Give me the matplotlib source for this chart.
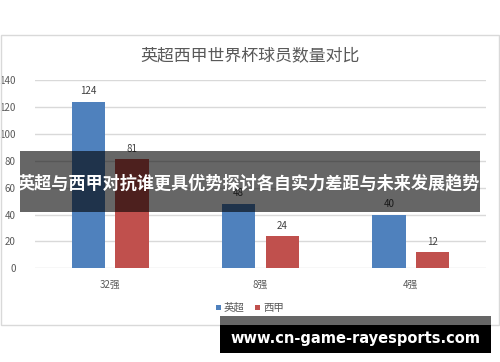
import matplotlib.pyplot as plt
import numpy as np
from matplotlib.patches import Rectangle

plt.rcParams['font.family'] = ['Noto Sans CJK SC', 'DejaVu Sans']

categories = ["32强", "8强", "4强"]
epl = [124, 48, 40]
laliga = [81, 24, 12]
series_names = ["英超", "西甲"]
title = "英超西甲世界杯球员数量对比"
banner = "英超与西甲对抗谁更具优势探讨各自实力差距与未来发展趋势"
watermark = "www.cn-game-rayesports.com"

W, H = 500, 362
fig = plt.figure(figsize=(W / 100, H / 100), dpi=100)
fig.patch.set_facecolor("white")

# chart frame
fig.patches.append(Rectangle((1 / W, 1 - 325 / H), 498 / W, 290 / H,
                             transform=fig.transFigure, fill=False,
                             edgecolor="#d9d9d9", linewidth=1))

ax = fig.add_axes([35 / W, 1 - 268.3 / H, 451 / W, 188.3 / H])
x = np.arange(len(categories))
w = 0.22
off = 0.145
b1 = ax.bar(x - off, epl, w, color="#4f81bd", zorder=3)
b2 = ax.bar(x + off, laliga, w, color="#c0504d", zorder=3)
for bars, vals in ((b1, epl), (b2, laliga)):
    for r, v in zip(bars, vals):
        ax.text(r.get_x() + r.get_width() / 2, v + 4, str(v), ha="center",
                va="bottom", fontsize=7, color="#404040")

ax.set_xlim(-0.5, 2.5)
ax.set_ylim(0, 140)
ax.set_yticks(range(0, 141, 20))
ax.set_xticks(x)
ax.set_xticklabels(categories)
ax.tick_params(axis="both", length=0, labelsize=7, labelcolor="#595959")
ax.tick_params(axis="x", pad=8)
ax.tick_params(axis="y", pad=14)
ax.grid(axis="y", color="#d9d9d9", linewidth=1, zorder=0)
for s in ax.spines.values():
    s.set_visible(False)

fig.text(0.5, 1 - 55 / H, title, ha="center", va="center", fontsize=12.2,
         color="#595959")

# legend
fig.patches.append(Rectangle((216 / W, 1 - 310 / H), 5 / W, 5 / H,
                             transform=fig.transFigure, color="#4f81bd",
                             linewidth=0))
fig.text(224 / W, 1 - 307.5 / H, series_names[0], va="center", fontsize=7.5,
         color="#595959")
fig.patches.append(Rectangle((255 / W, 1 - 310 / H), 5 / W, 5 / H,
                             transform=fig.transFigure, color="#c0504d",
                             linewidth=0))
fig.text(263 / W, 1 - 307.5 / H, series_names[1], va="center", fontsize=7.5,
         color="#595959")

# overlay banner
fig.patches.append(Rectangle((20 / W, 1 - 212 / H), 460 / W, 61 / H,
                             transform=fig.transFigure, color="black",
                             alpha=0.6, linewidth=0, zorder=10))
fig.text(249 / W, 1 - 183 / H, banner, ha="center", va="center",
         fontsize=12.3, fontweight="bold", color="white", zorder=11)

# watermark
fig.patches.append(Rectangle((220 / W, 1 - 325 / H), 271 / W, 9 / H,
                             transform=fig.transFigure, color="#666666",
                             linewidth=0, zorder=10))
fig.patches.append(Rectangle((220 / W, 1 - 353 / H), 271 / W, 28 / H,
                             transform=fig.transFigure, color="black",
                             linewidth=0, zorder=10))
fig.text(355 / W, 1 - 339 / H, watermark, ha="center", va="center",
         fontsize=10.5, fontweight="bold", color="white", zorder=11,
         family="DejaVu Sans")

fig.savefig("out.png", dpi=100)
